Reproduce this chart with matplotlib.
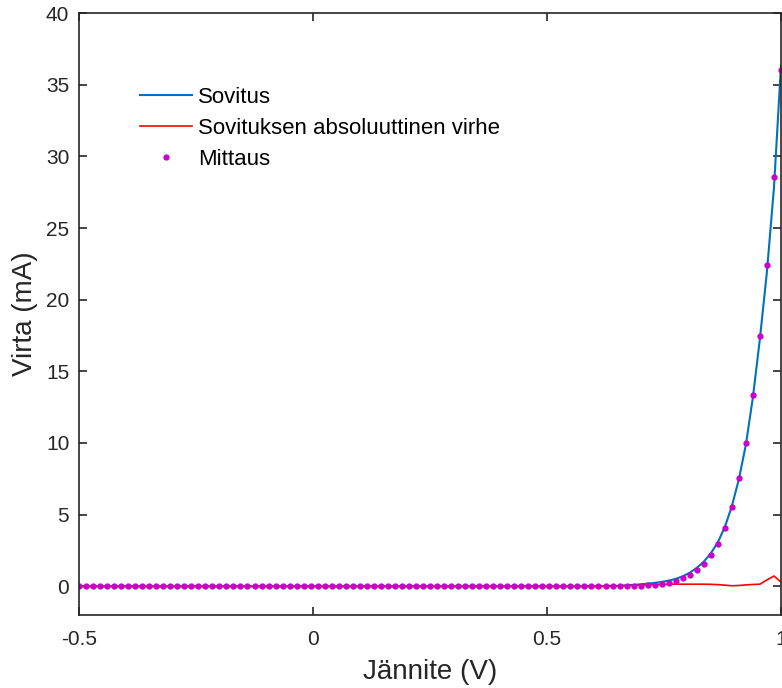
"""Diode I-V measurement with fitted curve and absolute fit error."""

import numpy as np
import matplotlib
matplotlib.use('Agg')
import matplotlib.pyplot as plt

# Measured voltage (V), -0.5 ... 1.0 in 0.015 V steps
voltage = [
    -0.500, -0.485, -0.470, -0.455, -0.440, -0.425, -0.410, -0.395, -0.380, -0.365,
    -0.350, -0.335, -0.320, -0.305, -0.290, -0.275, -0.260, -0.245, -0.230, -0.215,
    -0.200, -0.185, -0.170, -0.155, -0.140, -0.125, -0.110, -0.095, -0.080, -0.065,
    -0.050, -0.035, -0.020, -0.005, 0.010, 0.025, 0.040, 0.055, 0.070, 0.085,
    0.100, 0.115, 0.130, 0.145, 0.160, 0.175, 0.190, 0.205, 0.220, 0.235,
    0.250, 0.265, 0.280, 0.295, 0.310, 0.325, 0.340, 0.355, 0.370, 0.385,
    0.400, 0.415, 0.430, 0.445, 0.460, 0.475, 0.490, 0.505, 0.520, 0.535,
    0.550, 0.565, 0.580, 0.595, 0.610, 0.625, 0.640, 0.655, 0.670, 0.685,
    0.700, 0.715, 0.730, 0.745, 0.760, 0.775, 0.790, 0.805, 0.820, 0.835,
    0.850, 0.865, 0.880, 0.895, 0.910, 0.925, 0.940, 0.955, 0.970, 0.985,
    1.000,
]

# Measured current (mA)
current = [0.0] * 75 + [
    0.00, 0.00, 0.01, 0.02, 0.03,
    0.05, 0.08, 0.12, 0.18, 0.26, 0.37, 0.55, 0.80, 1.14, 1.57,
    2.16, 2.95, 4.06, 5.55, 7.53, 9.99, 13.33, 17.44, 22.42, 28.55,
    36.05,
]

# Fitted current (mA)
fit = [0.0] * 75 + [
    0.01, 0.02, 0.04, 0.07, 0.10,
    0.14, 0.19, 0.24, 0.31, 0.40, 0.52, 0.70, 0.95, 1.29, 1.72,
    2.30, 3.07, 4.14, 5.59, 7.47, 9.89, 13.20, 17.29, 21.97, 27.83,
    36.35,
]

V = np.array(voltage)
I = np.array(current)
I_fit = np.array(fit)
err = np.abs(I_fit - I)

plt.rcParams['font.family'] = ['Liberation Sans', 'DejaVu Sans']

fig = plt.figure(figsize=(7.82, 6.88), dpi=100)
ax = fig.add_axes([79 / 782, 73 / 688, 702 / 782, 602 / 688])

ax.plot(V, I_fit, color='#0072BD', lw=1.5, label='Sovitus')
ax.plot(V, err, color='#FF0000', lw=1.2, label='Sovituksen absoluuttinen virhe')
ax.plot(V, I, '.', color='#CC00CC', ms=7, label='Mittaus')

ax.set_xlim(-0.5, 1.0)
ax.set_ylim(-2, 40)
ax.set_xticks([-0.5, 0, 0.5, 1])
ax.set_xticklabels(['-0.5', '0', '0.5', '1'])
ax.set_yticks(range(0, 41, 5))

dark = '#262626'
for s in ax.spines.values():
    s.set_color(dark)
    s.set_linewidth(1.2)
ax.tick_params(direction='in', length=6, width=1.2, colors=dark,
               labelsize=15, top=True, right=True)
ax.tick_params(axis='x', pad=11)
ax.tick_params(axis='y', pad=7)

ax.set_xlabel('Jännite (V)', fontsize=20, color=dark, labelpad=7)
ax.set_ylabel('Virta (mA)', fontsize=20, color=dark, labelpad=5.5)

leg = ax.legend(loc='upper left', bbox_to_anchor=(0.074, 0.892), frameon=False,
                fontsize=16, handlelength=2.35, handletextpad=0.27,
                labelspacing=0.45, borderaxespad=0)

fig.savefig('out.png', dpi=100)
